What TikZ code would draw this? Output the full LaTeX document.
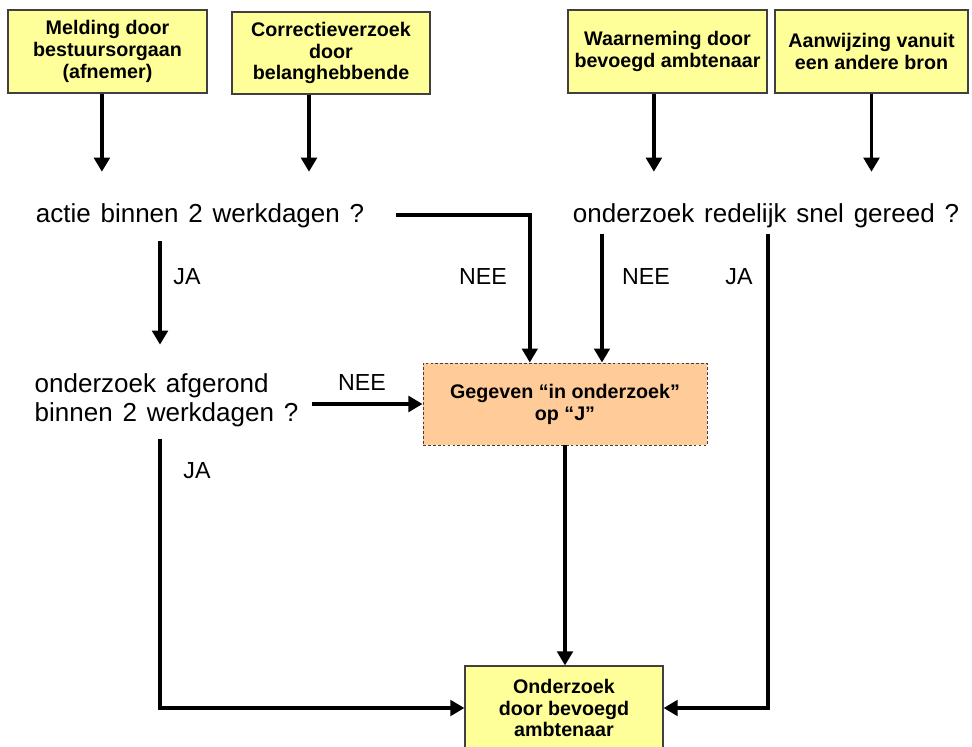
\documentclass[tikz,border=0pt]{standalone}
\usepackage{fontspec}
\setmainfont{Liberation Sans}
\newfontfamily\questfont[WordSpace=1.35]{Liberation Sans}
\usepackage{xcolor}
\usepackage{tikz}
\usetikzlibrary{arrows.meta,positioning}
\definecolor{boxyellow}{RGB}{255,255,153}
\definecolor{boxorange}{RGB}{255,204,153}
\definecolor{boxline}{RGB}{64,64,64}

\tikzset{
  yellowbox/.style={draw=boxline, fill=boxyellow, line width=0.8pt, align=center,
    inner sep=2pt, font=\bfseries\fontsize{14}{15.6}\selectfont},
  question/.style={align=center, inner sep=0pt, font=\questfont\fontsize{18.5}{20.6}\selectfont},
  answer/.style={inner sep=0pt, font=\fontsize{16.5}{18}\selectfont},
  flow/.style={line width=2.8pt, -{Triangle[length=10pt,width=11pt]}}
}

\begin{document}
\begin{tikzpicture}[x=0.025cm, y=-0.025cm]
  \useasboundingbox (0,0) rectangle (972,747);

  % bronnen
  \node[yellowbox, minimum width=4.975cm, minimum height=2.075cm] (melding) at (107.5,51.5)
    {Melding door\\bestuursorgaan\\(afnemer)};
  \node[yellowbox, minimum width=4.95cm, minimum height=2.05cm] (correctie) at (331,53)
    {Correctieverzoek\\door\\belanghebbende};
  \node[yellowbox, minimum width=4.975cm, minimum height=2.075cm] (waarneming) at (667.5,51.5)
    {Waarneming door\\bevoegd ambtenaar};
  \node[yellowbox, minimum width=4.825cm, minimum height=2.075cm] (aanwijzing) at (871.5,51.5)
    {Aanwijzing vanuit\\een andere bron};

  % vragen
  \node[question] (actie) at (200,215.4) {actie binnen 2 werkdagen ?};
  \node[question] (snel) at (766,215.4) {onderzoek redelijk snel gereed ?};
  \node[question, align=left] (afgerond) at (166.5,400) {onderzoek afgerond\\binnen 2 werkdagen ?};

  % resultaten
  \node[yellowbox, fill=boxorange, dash pattern=on 2pt off 1.5pt, line width=0.6pt,
        minimum width=7.1cm, minimum height=2.05cm] (gegeven) at (565,404)
    {Gegeven “in onderzoek”\\op “J”};
  \node[yellowbox, minimum width=4.95cm, minimum height=2.1cm] (onderzoek) at (564,708)
    {Onderzoek\\door bevoegd\\ambtenaar};

  % pijlen van de bronnen
  \draw[flow, shorten >=0.78cm] ([xshift=-0.14cm]melding.south) -- ([xshift=-0.14cm]melding.south |- actie.north);
  \draw[flow, shorten >=0.78cm] ([xshift=-0.55cm]correctie.south) -- ([xshift=-0.55cm]correctie.south |- actie.north);
  \draw[flow, shorten >=0.78cm] ([xshift=-0.34cm]waarneming.south) -- ([xshift=-0.34cm]waarneming.south |- snel.north);
  \draw[flow, shorten >=0.78cm] (aanwijzing.south) -- (aanwijzing.south |- snel.north);

  % beslissingen
  \draw[flow, shorten <=0.33cm, shorten >=0.71cm] ([xshift=-1cm]actie.south) -- ([xshift=-1cm]actie.south |- afgerond.north);
  \draw[flow, shorten <=0.8cm] (actie.east) -| ([xshift=-0.88cm]gegeven.north);
  \draw[flow, shorten <=0.15cm] ([xshift=-4.1cm]snel.south) -- ([xshift=-4.1cm]snel.south |- gegeven.north);
  \draw[flow, shorten <=0.15cm] ([xshift=0.05cm]snel.south) |- (onderzoek.east);
  \draw[flow, shorten <=0.33cm] (afgerond.east |- gegeven.west) -- (gegeven.west);
  \draw[flow, shorten <=0.3cm] ([xshift=-0.16cm]afgerond.south) |- (onderzoek.west);
  \draw[flow] (gegeven.south) -- (gegeven.south |- onderzoek.north);

  % antwoorden
  \node[answer] (ja1) at (187,277) {JA};
  \node[answer] (nee1) at (483,277) {NEE};
  \node[answer] (nee2) at (646,277) {NEE};
  \node[answer] (ja2) at (739,277) {JA};
  \node[answer] (nee3) at (362,383) {NEE};
  \node[answer] (ja3) at (197,471) {JA};
\end{tikzpicture}
\end{document}
